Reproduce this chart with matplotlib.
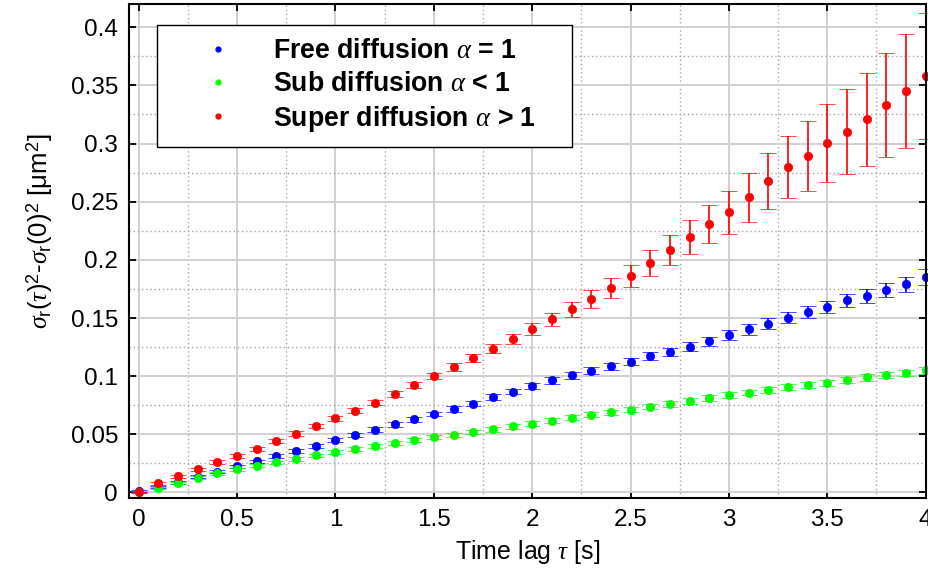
import numpy as np
import matplotlib
matplotlib.use('Agg')
import matplotlib.pyplot as plt
from matplotlib.lines import Line2D
from matplotlib.ticker import MultipleLocator, FuncFormatter

plt.rcParams.update({'font.family': 'Liberation Sans', 'font.size': 15,
                     'mathtext.fontset': 'custom',
                     'mathtext.rm': 'Liberation Sans',
                     'mathtext.it': 'Liberation Serif:italic',
                     'mathtext.bf': 'Liberation Sans:bold'})

# ── data ─────────────────────────────────────────────────────────────────────
tau = [0.0, 0.1, 0.2, 0.3, 0.4, 0.5, 0.6, 0.7, 0.8, 0.9,
       1.0, 1.1, 1.2, 1.3, 1.4, 1.5, 1.6, 1.7, 1.8, 1.9,
       2.0, 2.1, 2.2, 2.3, 2.4, 2.5, 2.6, 2.7, 2.8, 2.9,
       3.0, 3.1, 3.2, 3.3, 3.4, 3.5, 3.6, 3.7, 3.8, 3.9, 4.0]

free = [0.001, 0.0046, 0.0086, 0.0135, 0.018, 0.0224, 0.0267, 0.031, 0.0359, 0.0402,
        0.0448, 0.0494, 0.054, 0.0586, 0.0629, 0.0675, 0.0718, 0.0765, 0.0819, 0.0868,
        0.0917, 0.0963, 0.1006, 0.1046, 0.1086, 0.1126, 0.117, 0.121, 0.1253, 0.1302,
        0.1351, 0.1402, 0.1451, 0.1503, 0.1552, 0.1595, 0.1652, 0.1693, 0.1739, 0.179, 0.1853]
free_err = [0.0009, 0.0011, 0.0012, 0.0013, 0.0014, 0.0015, 0.0016, 0.0017, 0.0017, 0.0018,
            0.0018, 0.0019, 0.002, 0.002, 0.0021, 0.0021, 0.0022, 0.0023, 0.0024, 0.0025,
            0.0027, 0.0028, 0.0029, 0.003, 0.0031, 0.0032, 0.0034, 0.0035, 0.0037, 0.0039,
            0.0042, 0.0044, 0.0046, 0.0048, 0.0051, 0.0054, 0.0057, 0.006, 0.0062, 0.0066, 0.0069]

sub = [0.0005, 0.004, 0.0083, 0.0126, 0.0164, 0.0198, 0.023, 0.0259, 0.0287, 0.0319,
       0.0348, 0.0374, 0.04, 0.0428, 0.0451, 0.0474, 0.0497, 0.052, 0.0543, 0.0568,
       0.0592, 0.0618, 0.0641, 0.0667, 0.069, 0.0713, 0.0739, 0.0761, 0.0787, 0.0813,
       0.0839, 0.0859, 0.0885, 0.0908, 0.0925, 0.0942, 0.0968, 0.0989, 0.1009, 0.1028, 0.1052]
sub_err = [0.0009, 0.001, 0.0011, 0.0012, 0.0012, 0.0013, 0.0013, 0.0014, 0.0014, 0.0015,
           0.0015, 0.0016, 0.0016, 0.0017, 0.0017, 0.0018, 0.0018, 0.0019, 0.0019, 0.002,
           0.002, 0.002, 0.0021, 0.0021, 0.0022, 0.0022, 0.0023, 0.0023, 0.0024, 0.0024,
           0.0025, 0.0025, 0.0026, 0.0026, 0.0027, 0.0027, 0.0028, 0.0028, 0.0029, 0.0029, 0.003]

sup = [0.0, 0.0078, 0.0138, 0.0198, 0.026, 0.0316, 0.0377, 0.044, 0.0506, 0.0572,
       0.0638, 0.0704, 0.0773, 0.0848, 0.0925, 0.100, 0.1078, 0.1158, 0.1236, 0.1319,
       0.1402, 0.149, 0.1575, 0.1664, 0.1758, 0.1862, 0.1977, 0.2083, 0.2198, 0.2307,
       0.2411, 0.2537, 0.2681, 0.2799, 0.2894, 0.3006, 0.3103, 0.3207, 0.3333, 0.3451, 0.358]
sup_err = [0.0008, 0.0011, 0.0012, 0.0013, 0.0015, 0.0016, 0.0017, 0.0018, 0.0019, 0.002,
           0.0021, 0.0022, 0.0023, 0.0024, 0.0026, 0.0028, 0.0031, 0.0034, 0.0038, 0.0043,
           0.0052, 0.0057, 0.0066, 0.0075, 0.0084, 0.0095, 0.0112, 0.0127, 0.0145, 0.0164,
           0.0185, 0.0209, 0.0241, 0.027, 0.030, 0.0334, 0.0366, 0.0403, 0.0447, 0.049, 0.0539]

SERIES = [(free, free_err, (0, 0, 1), r'Free diffusion $\alpha$ = 1'),
          (sub, sub_err, (0, 1, 0), r'Sub diffusion $\alpha$ < 1'),
          (sup, sup_err, (1, 0, 0), r'Super diffusion $\alpha$ > 1')]

fig = plt.figure(figsize=(9.29, 5.79), dpi=100)
ax = fig.add_axes([0.139, 0.1404, 0.8574, 0.8527])

handles = []
for y, e, c, lab in SERIES:
    ax.errorbar(tau, y, yerr=e, fmt='o', color=c, ms=6, mec=c, mew=0.5,
                elinewidth=1.2, capsize=5.5, capthick=1.2, clip_on=False)
    handles.append(Line2D([], [], ls='none', marker='o', color=c, ms=4.5, mew=0,
                          label=lab))

ax.set_xlim(-0.049, 4.0)
ax.set_ylim(-0.0045, 0.42)
ax.xaxis.set_major_locator(MultipleLocator(0.5))
ax.xaxis.set_minor_locator(MultipleLocator(0.25))
ax.yaxis.set_major_locator(MultipleLocator(0.05))
ax.yaxis.set_minor_locator(MultipleLocator(0.025))
ax.xaxis.set_major_formatter(FuncFormatter(lambda v, p: f'{v:g}'))
ax.yaxis.set_major_formatter(FuncFormatter(lambda v, p: f'{v:g}'))

ax.grid(which='major', color='0.82', lw=1.4, ls='-')
ax.grid(which='minor', color='0.65', lw=1.0, ls=(0, (1, 2)))
ax.set_axisbelow(True)
ax.tick_params(which='major', direction='in', length=5, width=1.3,
               top=True, right=True, labelsize=17.5, pad=8)
ax.tick_params(which='minor', length=0)
for s in ax.spines.values():
    s.set_linewidth(1.5)

ax.set_xlabel(r'Time lag $\tau$ [s]', fontsize=18, labelpad=5)
ax.set_ylabel(r'$\sigma_\mathrm{r}(\tau)^2$-$\sigma_\mathrm{r}(0)^2$ [μm$^2$]',
              fontsize=18.5, labelpad=11)
ax.yaxis.label.set_y(0.54)

leg = ax.legend(handles=handles, loc='upper left',
                bbox_to_anchor=(0.0344, 0.5, 0.521, 0.4575), mode='expand',
                borderaxespad=0, prop={'weight': 'bold', 'size': 19.2},
                handlelength=3.6, handletextpad=0.25, borderpad=0.5,
                labelspacing=0.25, fancybox=False, framealpha=1,
                edgecolor='k')
leg.get_frame().set_linewidth(1.0)
leg.set_zorder(5)

fig.savefig('out.png', dpi=100)
